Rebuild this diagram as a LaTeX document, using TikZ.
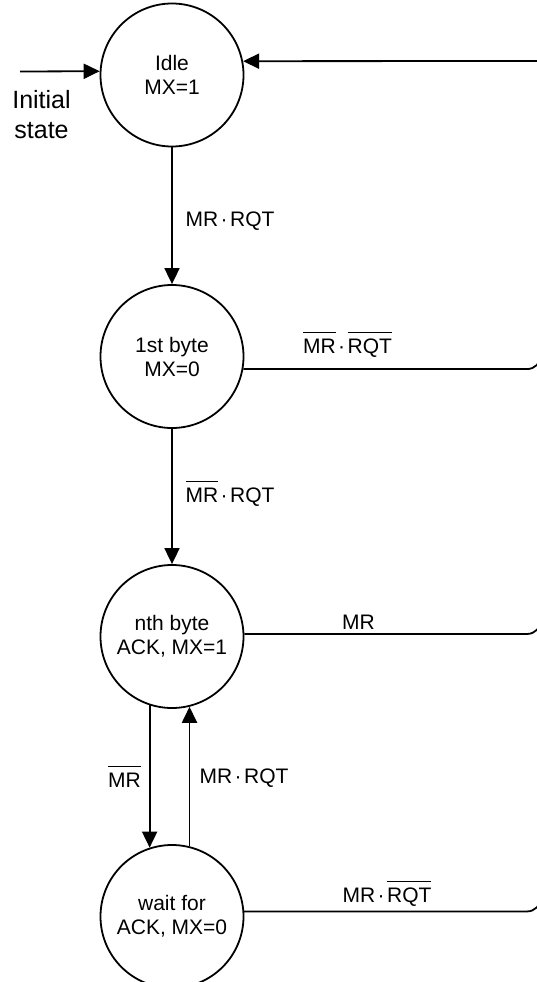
\documentclass[tikz,border=0pt]{standalone}
\usepackage{fontspec}
\setmainfont{Liberation Sans}
\usetikzlibrary{arrows.meta}
\newcommand\ovl[1]{\vbox{\hrule height 1pt\kern 5.5pt\hbox{#1}}}
\newcommand\andd{\kern2.5pt·\kern2.5pt}
\begin{document}
\begin{tikzpicture}[x=1pt,y=-1pt,line width=1.8pt,
  state/.style={circle,draw,minimum size=143pt,inner sep=0pt,align=center,
    font=\fontsize{21}{24}\selectfont},
  lbl/.style={anchor=base,inner sep=0pt,font=\fontsize{21}{24}\selectfont},
  arr/.style={-{Triangle[length=16pt,width=15pt]}}]
\useasboundingbox (0,0) rectangle (537,982);
% states
\node[state] (idle)  at (172,75)    {Idle\\MX=1};
\node[state] (first) at (172,356.5) {1st byte\\MX=0};
\node[state] (nth)   at (172,636.5) {nth byte\\ACK, MX=1};
\node[state] (wait)  at (172,916.5) {wait for\\ACK, MX=0};
% initial
\coordinate (init) at (20,71.5);
\node[inner sep=0pt,align=center,font=\fontsize{25}{30}\selectfont] (initlbl) at (41.5,115) {Initial\\state};
\draw[arr] (init) -- (idle.177);
% vertical transitions
\draw[arr] (idle.south) -- (first.north);
\draw[arr] (first.south) -- (nth.north);
\draw[arr] (nth.-108.8) -- (wait.108.8);
\draw[arr] (wait.76.25) -- (nth.-76.25);
% return rail
\coordinate (rtop) at (541,61);
\draw[rounded corners=14pt] (first.-10) -| (rtop);
\draw[rounded corners=14pt] (nth.2) -| (rtop);
\draw[rounded corners=14pt] (wait.4) -| (rtop);
\draw[arr] (rtop) -- (idle.11);
% labels
\node[lbl] (l1) at (230,226)   {MR\andd RQT};
\node[lbl] (l2) at (347.5,353) {\ovl{MR}\andd\ovl{RQT}};
\node[lbl] (l3) at (230,502)   {\ovl{MR}\andd RQT};
\node[lbl] (l4) at (358.5,629) {MR};
\node[lbl] (l5) at (124.5,787) {\ovl{MR}};
\node[lbl] (l6) at (244,783)   {MR\andd RQT};
\node[lbl] (l7) at (387,902)   {MR\andd\ovl{RQT}};
\end{tikzpicture}
\end{document}
